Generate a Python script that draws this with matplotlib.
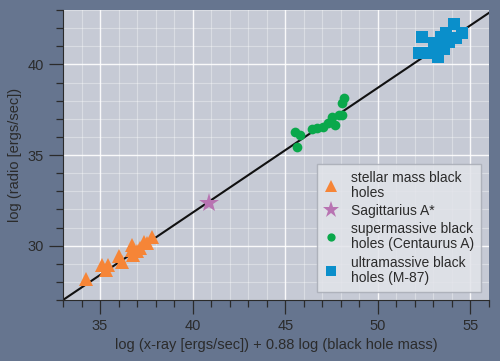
import matplotlib
matplotlib.use("Agg")
import matplotlib.pyplot as plt
import numpy as np
from matplotlib.ticker import MultipleLocator

plt.rcParams['font.family'] = ['Liberation Sans', 'DejaVu Sans']

# Data
stellar_x = [34.22, 35.12, 35.32, 35.44, 36.02, 36.16, 36.73, 36.79, 36.97, 37.15, 37.36, 37.54, 37.83, 36.70]
stellar_y = [28.14, 28.93, 28.65, 28.93, 29.43, 29.12, 30.03, 29.48, 29.70, 29.85, 30.21, 30.12, 30.46, 29.76]
sgr_x = [40.88]
sgr_y = [32.37]
super_x = [45.53, 45.82, 45.64, 46.43, 46.72, 47.06, 47.33, 47.51, 47.69, 47.88, 48.07, 48.15, 48.07]
super_y = [36.29, 36.10, 35.46, 36.42, 36.51, 36.56, 36.75, 37.08, 36.66, 37.21, 37.85, 38.13, 37.20]
ultra_x = [52.37, 52.23, 52.86, 53.22, 53.04, 53.40, 53.67, 53.85, 54.12, 54.21, 54.56, 53.58, 53.31]
ultra_y = [41.49, 40.61, 40.61, 40.42, 41.16, 41.53, 41.71, 41.25, 42.26, 41.44, 41.71, 40.88, 40.97]
fit_x = [33.0, 56.0]
fit_y = [27.0, 42.85]

labels = ["stellar mass black\nholes", "Sagittarius A*",
          "supermassive black\nholes (Centaurus A)", "ultramassive black\nholes (M-87)"]
xlabel = "log (x-ray [ergs/sec]) + 0.88 log (black hole mass)"
ylabel = "log (radio [ergs/sec])"

fig_bg = '#66758f'
ax_bg = '#c6cad5'
txt = '#2b2b2b'

fig = plt.figure(figsize=(5, 3.61), dpi=100, facecolor=fig_bg)
ax = fig.add_axes([0.126, 0.169, 0.852, 0.803], facecolor=ax_bg)

ax.set_xlim(33, 56)
ax.set_ylim(27, 43)
ax.xaxis.set_major_locator(MultipleLocator(5))
ax.xaxis.set_minor_locator(MultipleLocator(1))
ax.yaxis.set_major_locator(MultipleLocator(5))
ax.yaxis.set_minor_locator(MultipleLocator(1))
ax.grid(which='major', color='white', linewidth=1.0, alpha=0.9)
ax.grid(which='minor', color='white', linewidth=0.8, alpha=0.35)
ax.set_axisbelow(True)

for s in ['top', 'right']:
    ax.spines[s].set_visible(False)
for s in ['left', 'bottom']:
    ax.spines[s].set_color(txt)
    ax.spines[s].set_linewidth(0.8)

ax.tick_params(which='major', length=10, width=0.9, color=txt, labelcolor=txt,
               labelsize=10.5, pad=4)
ax.tick_params(which='minor', length=5, width=0.9, color=txt)

ax.plot(fit_x, fit_y, color='#111111', linewidth=1.5, zorder=2)

ax.plot(stellar_x, stellar_y, '^', color='#f68537', markersize=10, linestyle='none',
        markeredgewidth=0, label=labels[0], zorder=3)
ax.plot(sgr_x, sgr_y, '*', color='#b874b2', markersize=15, linestyle='none',
        markeredgewidth=0, label=labels[1], zorder=3)
ax.plot(super_x, super_y, 'o', color='#0aa84b', markersize=7, linestyle='none',
        markeredgewidth=0, label=labels[2], zorder=3)
ax.plot(ultra_x, ultra_y, 's', color='#0a8fcb', markersize=8, linestyle='none',
        markeredgewidth=0, label=labels[3], zorder=3)

leg = ax.legend(loc='lower right', bbox_to_anchor=(0.997, 0.005), fontsize=10,
                frameon=True, fancybox=False, facecolor='#e2e4ea', edgecolor='#a8acb6',
                framealpha=0.85, handlelength=1.0, handletextpad=0.9, labelspacing=0.3,
                borderpad=0.5, borderaxespad=0.5, markerscale=0.85)
for t in leg.get_texts():
    t.set_color(txt)
    t.set_linespacing(1.1)

ax.set_xlabel(xlabel, color=txt, fontsize=10.5, labelpad=3)
ax.set_ylabel(ylabel, color=txt, fontsize=10.5, labelpad=4)

fig.savefig('out.png', dpi=100, facecolor=fig_bg)
